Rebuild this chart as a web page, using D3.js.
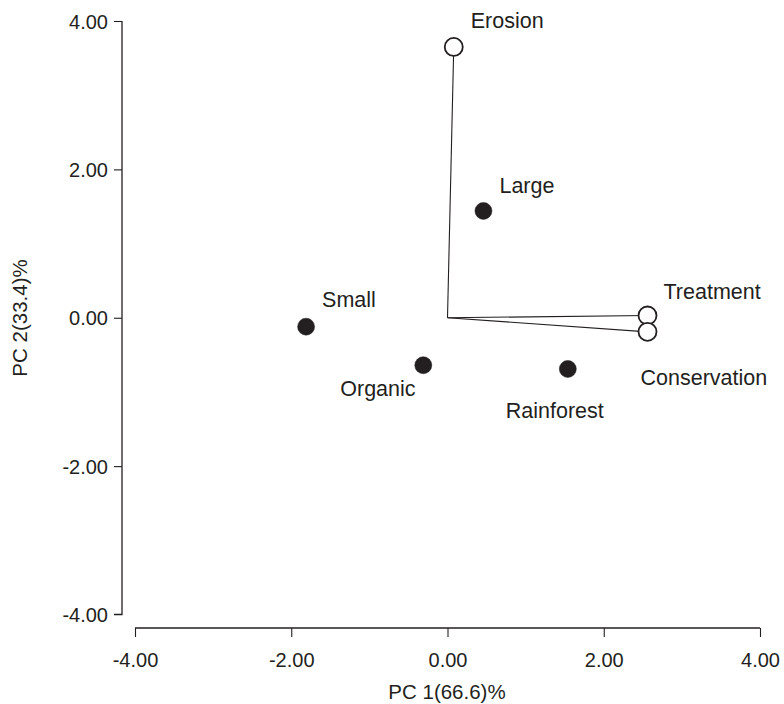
<!DOCTYPE html>
<html><head><meta charset="utf-8">
<script src="https://cdn.jsdelivr.net/npm/d3@7"></script>
<style>body{margin:0;background:#fff}svg{display:block}text{font-family:"Liberation Sans",Arial,sans-serif;fill:#231f20}</style>
</head><body>
<script>
const names = ["Erosion","Large","Small","Organic","Rainforest","Treatment","Conservation"];
const pc1 = [0.08, 0.46, -1.81, -0.31, 1.54, 2.56, 2.56];
const pc2 = [3.65, 1.44, -0.12, -0.64, -0.69, 0.03, -0.19];
const isVector = [true, false, false, false, false, true, true];
const xTicks = [-4, -2, 0, 2, 4];
const yTicks = [-4, -2, 0, 2, 4];
// label offsets (px) relative to marker
const labelDx = [17, 16, 16, -83, -62, 16, -7];
const labelDy = [-19, -18, -20, 31, 49, -17, 53];

const W = 784, H = 704;
const svg = d3.select("body").append("svg").attr("width", W).attr("height", H);
const x = d3.scaleLinear().domain([-4, 4]).range([135, 760]);
const y = d3.scaleLinear().domain([-4, 4]).range([614.5, 21]);
const ink = "#231f20";
const fmt = d => d.toFixed(2);

const xAxis = svg.append("g").attr("transform", "translate(0,628)")
  .call(d3.axisBottom(x).tickValues(xTicks).tickFormat(fmt).tickSize(9).tickSizeOuter(0));
const yAxis = svg.append("g").attr("transform", "translate(122,0)")
  .call(d3.axisLeft(y).tickValues(yTicks).tickFormat(fmt).tickSize(8).tickSizeOuter(0));
[xAxis, yAxis].forEach(g => {
  g.select(".domain").attr("stroke", ink).attr("stroke-width", 1.3);
  g.selectAll(".tick line").attr("stroke", ink).attr("stroke-width", 1.1);
  g.selectAll(".tick text").attr("fill", ink).style("font-size", "20px").style("font-family", "Liberation Sans, Arial, sans-serif");
});
xAxis.selectAll(".tick text").attr("dy", null).attr("y", 39);
yAxis.selectAll(".tick text").attr("x", -14).attr("dy", "0.36em");
yAxis.select(".domain").attr("d", `M0,${y(4)}V${y(-4)}H-8`);
yAxis.selectAll(".tick").filter(d => d === -4).select("line").remove();
xAxis.select(".domain").attr("d", `M${x(-4)},0H${x(4)}`);

const data = names.map((n, i) => ({n, x: pc1[i], y: pc2[i], v: isVector[i], dx: labelDx[i], dy: labelDy[i]}));

svg.append("g").selectAll("line").data(data.filter(d => d.v)).join("line")
  .attr("x1", x(0)).attr("y1", y(0)).attr("x2", d => x(d.x)).attr("y2", d => y(d.y))
  .attr("stroke", ink).attr("stroke-width", 1.1);

svg.append("g").selectAll("circle").data(data).join("circle")
  .attr("cx", d => x(d.x)).attr("cy", d => y(d.y)).attr("r", d => d.v ? 9 : 8.5)
  .attr("fill", d => d.v ? "#fff" : ink).attr("stroke", ink).attr("stroke-width", d => d.v ? 1.8 : 0.5);

svg.append("g").selectAll("text").data(data).join("text")
  .attr("x", d => x(d.x) + d.dx).attr("y", d => y(d.y) + d.dy)
  .style("font-size", "21.5px").text(d => d.n);

svg.append("text").attr("x", 447).attr("y", 699).attr("text-anchor", "middle")
  .style("font-size", "20.5px").text("PC 1(66.6)%");
svg.append("text").attr("transform", "translate(27,318) rotate(-90)").attr("text-anchor", "middle")
  .style("font-size", "20.5px").text("PC 2(33.4)%");
</script>
</body></html>
